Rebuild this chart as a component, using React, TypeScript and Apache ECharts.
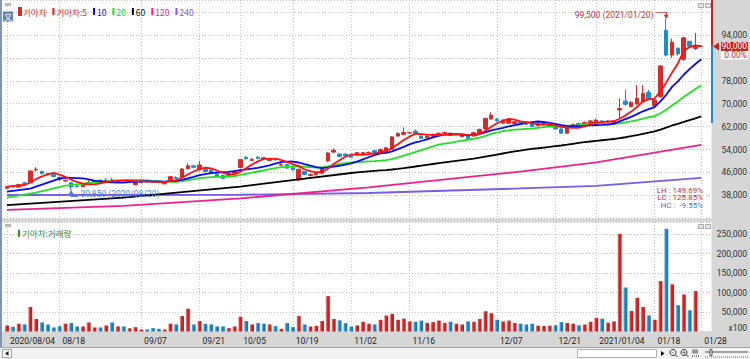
import React, { useEffect, useRef } from "react";
import * as echarts from "echarts";

// ---- trading days (KRX sessions) ----
const aug2020 = [4, 5, 6, 7, 10, 11, 12, 13, 14, 18, 19, 20, 21, 24, 25, 26, 27, 28, 31];
const sep2020 = [1, 2, 3, 4, 7, 8, 9, 10, 11, 14, 15, 16, 17, 18, 21, 22, 23, 24, 25, 28, 29];
const oct2020 = [5, 6, 7, 8, 12, 13, 14, 15, 16, 19, 20, 21, 22, 23, 26, 27, 28, 29, 30];
const nov2020 = [2, 3, 4, 5, 6, 9, 10, 11, 12, 13, 16, 17, 18, 19, 20, 23, 24, 25, 26, 27, 30];
const dec2020 = [1, 2, 3, 4, 7, 8, 9, 10, 11, 14, 15, 16, 17, 18, 21, 22, 23, 24, 28, 29, 30];
const jan2021 = [4, 5, 6, 7, 8, 11, 12, 13, 14, 15, 18, 19, 20, 21, 22, 25, 26, 27, 28];

// ---- price data (won) ----
const opens = [
  40500, 41100, 40900, 42300, 42400, 46900, 46300, 45600, 45200, 44300,
  43000, 42400, 41200, 41000, 42000, 42600, 43300, 43000, 43400, 42900,
  43200, 42800, 41700, 42500, 42800, 42800, 42800, 42000, 42800, 44200,
  44300, 47300, 48300, 46900, 47600, 46800, 45300, 45000, 44900, 45700,
  47700, 51300, 50200, 51300, 51200, 50200, 50900, 48500, 48800, 47600,
  43400, 46300, 44900, 45200, 45700, 50000, 53100, 52400, 52400, 52000,
  52100, 52300, 52900, 53600, 52700, 53000, 54100, 58700, 59300, 59800,
  60400, 58700, 58100, 58700, 59100, 59800, 59700, 59200, 58500, 59100,
  58700, 59700, 61200, 64700, 64600, 63200, 63200, 63100, 63500, 63100,
  62800, 62300, 62600, 62000, 62000, 61200, 59700, 62000, 63100, 62800,
  63200, 62800, 64000, 63500, 63200, 67800, 70900, 69000, 69900, 70700,
  74000, 69300, 72500, 95700, 87000, 89400, 85500, 91800, 89300, 90000,
];
const closes = [
  41000, 40900, 41700, 42200, 46500, 47100, 45600, 45300, 44600, 43500,
  43200, 40900, 41100, 41600, 42400, 43000, 42900, 43300, 43200, 43000,
  43100, 42900, 42600, 42600, 42700, 42600, 42600, 42600, 44500, 43800,
  47200, 48300, 47800, 48600, 46300, 46000, 44600, 43900, 45600, 46400,
  50500, 50800, 50600, 50900, 50800, 50600, 50700, 48700, 47500, 46900,
  47100, 45300, 45300, 45600, 47400, 52800, 53700, 51600, 51800, 51300,
  52900, 52900, 53000, 52700, 54000, 54600, 58400, 59600, 59900, 59900,
  59700, 57900, 58700, 59300, 59700, 59900, 58900, 59300, 59000, 57900,
  59900, 61000, 64900, 66000, 64000, 64300, 64300, 63700, 62800, 62800,
  62000, 63100, 63100, 62600, 61200, 59700, 61600, 62800, 62600, 63500,
  64000, 64300, 63500, 63800, 63800, 68300, 69800, 70500, 71900, 73600,
  71700, 71300, 83200, 87000, 91500, 87400, 93000, 90100, 90000, 90000,
];
const lows = [
  40300, 40700, 40700, 41900, 42300, 46200, 45300, 45000, 44300, 42800,
  42700, 39850, 40700, 40800, 41800, 42400, 42700, 42800, 42900, 42700,
  42800, 42600, 41500, 42300, 42400, 42400, 42300, 41900, 42600, 43500,
  44000, 47000, 47400, 46700, 46000, 45600, 44300, 43600, 44600, 45400,
  47500, 50500, 49900, 50600, 50300, 50000, 50000, 48400, 47200, 46600,
  43000, 45000, 44600, 44900, 45400, 49700, 52800, 51300, 51500, 51000,
  51900, 52100, 52700, 52400, 52500, 52800, 53900, 58400, 59000, 59500,
  59400, 57700, 57800, 58400, 58900, 59500, 58700, 58900, 58300, 57700,
  58500, 59500, 61000, 64400, 63700, 63000, 62900, 62900, 62600, 62500,
  61800, 62100, 62400, 61800, 61000, 59400, 59500, 61800, 62400, 62600,
  63000, 62500, 63200, 63200, 63000, 64900, 69300, 68700, 69600, 70400,
  71400, 68800, 72000, 86500, 86000, 86800, 85000, 89800, 88800, 90000,
];
const highs = [
  41200, 41400, 42000, 42700, 46700, 47800, 46600, 45900, 45500, 44500,
  43600, 42500, 41600, 41900, 43600, 43200, 43600, 43900, 44100, 43500,
  43400, 43300, 42800, 43000, 43100, 43000, 42900, 42800, 44700, 44600,
  47500, 49200, 48600, 50000, 47900, 47000, 45600, 45200, 45900, 46700,
  50700, 51700, 51000, 51800, 51300, 50900, 51000, 49800, 49000, 47900,
  47300, 46500, 45600, 45900, 47600, 53200, 54400, 52700, 52600, 52300,
  53100, 53100, 53300, 53800, 54300, 54900, 58700, 60000, 61700, 60200,
  61000, 59000, 58900, 59500, 59900, 60200, 59900, 59600, 59300, 59300,
  60100, 61300, 65100, 67000, 65000, 64500, 64600, 64000, 63800, 63300,
  63000, 63300, 63400, 62900, 62200, 61400, 61900, 63000, 63400, 63700,
  64300, 64800, 64300, 64200, 64100, 71900, 74800, 70800, 76500, 76500,
  74800, 71600, 83500, 99500, 92800, 89600, 93300, 92000, 94700, 90000,
];
// volume, shown in units of 100 shares (axis says x100)
const volumes = [
  15500, 12100, 19900, 18100, 62900, 32000, 23300, 18100, 10400, 13800,
  19900, 21600, 12900, 12900, 23300, 10400, 10400, 15500, 23300, 12900,
  12900, 8600, 11200, 5200, 5200, 8600, 6900, 5200, 19900, 18100,
  39600, 58600, 18100, 26800, 19900, 18100, 12900, 12900, 8600, 12900,
  37800, 26800, 18100, 21600, 19900, 18100, 13800, 6900, 21600, 11200,
  39600, 18100, 12900, 14700, 26800, 90700, 32000, 28500, 21600, 12900,
  15500, 25000, 19900, 18100, 30000, 41000, 45000, 30000, 33000, 26000,
  25000, 28000, 22000, 24000, 28000, 22000, 25000, 20000, 18000, 26000,
  25000, 32000, 52000, 47000, 30000, 26000, 28000, 22000, 20000, 18000,
  20000, 15000, 14000, 15000, 16000, 24000, 22000, 20000, 16000, 18000,
  25000, 35000, 33000, 22500, 25900, 250500, 113000, 52700, 86400, 63000,
  41500, 30200, 129500, 263500, 121000, 67400, 95000, 54400, 103600, 0,
];

const ma5EarlyIdx = [0, 3];
const ma5EarlyVal = [41000, 41600];
const ma10EarlyIdx = [0, 4];
const ma10EarlyVal = [39300, 40300];
const ma20EarlyIdx = [0, 5, 10, 15];
const ma20EarlyVal = [37200, 38900, 41400, 42500];
const ma60EarlyIdx = [0, 20, 40, 50];
const ma60EarlyVal = [34600, 37200, 41000, 43600];
const ma120Idx = [0, 20, 40, 62, 88, 101, 119];
const ma120Val = [32900, 34300, 36900, 40800, 46300, 49500, 55600];
const ma240Idx = [0, 40, 62, 88, 101, 119];
const ma240Val = [38100, 38200, 38800, 40400, 41300, 44100];

// x-axis tick labels
const tickDates = ["2020/08/04", "2020/08/18", "2020/09/07", "2020/09/21", "2020/10/05", "2020/10/19", "2020/11/02", "2020/11/16", "2020/12/07", "2020/12/21", "2021/01/04", "2021/01/18", "2021/01/28"];
const tickLabels = ["2020/08/04", "08/18", "09/07", "09/21", "10/05", "10/19", "11/02", "11/16", "12/07", "12/21", "2021/01/04", "01/18", "01/28"];

// price axis ticks / volume axis ticks
const priceTickStep = 8000;
const priceMin = 30000;
const hiddenPriceLabels = [86000, 102000];
const volTickStep = 50000;

const UP = "#d92a2a";
const DOWN = "#1f8bcc";
const FONT = "Roboto, 'Noto Sans CJK KR', sans-serif";
const KFONT = "'Noto Sans CJK KR', Roboto, sans-serif";

const pad = (n: number) => (n < 10 ? "0" + n : "" + n);
function buildDates(): string[] {
  const out: string[] = [];
  const groups: [number, number, number[]][] = [
    [2020, 8, aug2020], [2020, 9, sep2020], [2020, 10, oct2020],
    [2020, 11, nov2020], [2020, 12, dec2020], [2021, 1, jan2021],
  ];
  groups.forEach(([y, m, ds]) => ds.forEach((d) => out.push(`${y}/${pad(m)}/${pad(d)}`)));
  return out;
}
const dates = buildDates();
const N = dates.length;

function sma(n: number): (number | null)[] {
  return closes.map((_, i) => {
    if (i < n - 1) return null;
    let s = 0;
    for (let k = i - n + 1; k <= i; k++) s += closes[k];
    return Math.round(s / n);
  });
}
function withPoints(base: (number | null)[], idx: number[], val: number[]) {
  const out = base.slice();
  idx.forEach((k, j) => (out[k] = val[j]));
  return out;
}
const empty = () => new Array(N).fill(null) as (number | null)[];

const fmt = (v: number) => v.toLocaleString("en-US");

function buildOption(): any {
  const cats = [...dates, ""];
  const labelIdx = new Set(tickDates.map((d) => dates.indexOf(d)));
  const labelMap: Record<string, string> = {};
  tickDates.forEach((d, i) => (labelMap[d] = tickLabels[i]));

  const ma5 = withPoints(sma(5), ma5EarlyIdx, ma5EarlyVal);
  const ma10 = withPoints(sma(10), ma10EarlyIdx, ma10EarlyVal);
  const ma20 = withPoints(sma(20), ma20EarlyIdx, ma20EarlyVal);
  const ma60 = withPoints(sma(60), ma60EarlyIdx, ma60EarlyVal);
  const ma120 = withPoints(empty(), ma120Idx, ma120Val);
  const ma240 = withPoints(empty(), ma240Idx, ma240Val);

  let hiIdx = 0, loIdx = 0;
  highs.forEach((h, i) => { if (h > highs[hiIdx]) hiIdx = i; });
  lows.forEach((l, i) => { if (l < lows[loIdx]) loIdx = i; });

  const splitInterval = (i: number) => labelIdx.has(i);
  const dotted = { color: "#c4c4c4", width: 1, type: [1, 2] };

  const xCommon = {
    type: "category",
    data: cats,
    boundaryGap: true,
    axisLine: { show: false },
    axisTick: { show: false },
    splitLine: { show: true, interval: splitInterval, alignWithLabel: true, lineStyle: dotted },
  };

  const lineS = (name: string, data: any[], color: string, width = 1.8) => ({
    type: "line", name, data, xAxisIndex: 0, yAxisIndex: 0, symbol: "none",
    connectNulls: true, smooth: false, z: 4,
    lineStyle: { color, width }, itemStyle: { color }, silent: true,
  });

  const volBar = (i: number) => {
    const up = closes[i] >= opens[i];
    const main = up ? UP : DOWN;
    const light = up ? "#f3a0a0" : "#8cc8ee";
    const dark = up ? "#b81818" : "#1670a8";
    return {
      value: volumes[i],
      itemStyle: {
        color: new echarts.graphic.LinearGradient(0, 0, 1, 0, [
          { offset: 0, color: light }, { offset: 0.35, color: main }, { offset: 1, color: dark },
        ]),
      },
    };
  };

  const hiText = `${fmt(highs[hiIdx])} (${dates[hiIdx]})`;
  const loText = `${fmt(lows[loIdx])} (${dates[loIdx]})`;

  return {
    animation: false,
    backgroundColor: "#d6d6d6",
    textStyle: { fontFamily: FONT },
    grid: [
      { left: 4, top: 0, width: 706, height: 218.2 },
      { left: 4, top: 222, width: 706, height: 109.5 },
    ],
    legend: [
      {
        left: 13, top: 2, icon: "rect", itemWidth: 2, itemHeight: 7, itemGap: 6,
        selectedMode: false, textStyle: { fontSize: 8.5, fontFamily: KFONT, padding: [0, 0, 0, -3] },
        data: [
          { name: "기아차", textStyle: { color: "#d23030" } },
          { name: "기아차:5", textStyle: { color: "#e02020" } },
          { name: "10", textStyle: { color: "#1010e0" } },
          { name: "20", textStyle: { color: "#10d010" } },
          { name: "60", textStyle: { color: "#101010" } },
          { name: "120", textStyle: { color: "#e0207f" } },
          { name: "240", textStyle: { color: "#7a5ae8" } },
        ],
      },
      {
        left: 13, top: 224, icon: "rect", itemWidth: 2, itemHeight: 7,
        selectedMode: false, textStyle: { fontSize: 8.5, fontFamily: KFONT, padding: [0, 0, 0, -3] },
        data: [{ name: "기아차:거래량", textStyle: { color: "#2a8a2a" } }],
      },
    ],
    xAxis: [
      { ...xCommon, gridIndex: 0, axisLabel: { show: false } },
      {
        ...xCommon, gridIndex: 1,
        axisLabel: {
          show: true, interval: (i: number) => labelIdx.has(i),
          formatter: (v: string) => labelMap[v] || "",
          align: "left", padding: [0, 0, 0, 3], margin: 5,
          color: "#222", fontSize: 8.5, fontFamily: FONT,
        },
      },
    ],
    yAxis: [
      {
        type: "value", gridIndex: 0, position: "right", min: priceMin, max: 106230,
        interval: priceTickStep,
        axisLine: { show: false }, axisTick: { show: false },
        axisLabel: {
          showMinLabel: false, showMaxLabel: false, margin: 37, align: "right",
          color: "#333", fontSize: 8.5, fontFamily: FONT,
          formatter: (v: number) => (hiddenPriceLabels.includes(v) ? "" : fmt(v)),
        },
        splitLine: { show: true, lineStyle: dotted },
      },
      {
        type: "value", gridIndex: 1, position: "right", min: 0, max: 281000,
        interval: volTickStep,
        axisLine: { show: false }, axisTick: { show: false },
        axisLabel: {
          showMinLabel: false, showMaxLabel: false, margin: 37, align: "right",
          color: "#333", fontSize: 8.5, fontFamily: FONT, formatter: (v: number) => fmt(v),
        },
        splitLine: { show: true, lineStyle: dotted },
      },
    ],
    series: [
      {
        type: "candlestick", name: "기아차", xAxisIndex: 0, yAxisIndex: 0,
        data: opens.map((o, i) => [o, closes[i], lows[i], highs[i]]),
        barWidth: 4, z: 3,
        itemStyle: { color: UP, color0: DOWN, borderColor: UP, borderColor0: DOWN, borderWidth: 1 },
        markPoint: {
          silent: true,
          data: [
            {
              coord: [dates[hiIdx], highs[hiIdx]], symbol: "path://M0,0 L10,0 L10,6",
              symbolSize: [10, 6], symbolOffset: [-5, -4], symbolKeepAspect: false,
              itemStyle: { color: "transparent", borderColor: "#c83232", borderWidth: 1 },
              label: { show: true, position: "left", distance: 2, formatter: hiText, color: "#c83232", fontSize: 8.5, fontFamily: FONT },
            },
            {
              coord: [dates[hiIdx], highs[hiIdx]], symbol: "triangle", symbolRotate: 180,
              symbolSize: [5, 4], symbolOffset: [0, -2.5], itemStyle: { color: "#c83232" },
              label: { show: false },
            },
            {
              coord: [dates[loIdx], lows[loIdx]], symbol: "path://M0,0 L0,6 L7,6",
              symbolSize: [7, 6], symbolOffset: [3.5, 3.5], symbolKeepAspect: false,
              itemStyle: { color: "transparent", borderColor: "#4a88cc", borderWidth: 1 },
              label: { show: true, position: "right", distance: 2, formatter: loText, color: "#4a88cc", fontSize: 8.5, fontFamily: FONT },
            },
            {
              coord: [dates[loIdx], lows[loIdx]], symbol: "triangle",
              symbolSize: [5, 4], symbolOffset: [0, 2], itemStyle: { color: "#4a88cc" },
              label: { show: false },
            },
          ],
        },
      },
      lineS("240", ma240, "#7a5ae8"),
      lineS("120", ma120, "#f0208a"),
      lineS("60", ma60, "#000000"),
      lineS("20", ma20, "#22e022"),
      lineS("10", ma10, "#0a0aee"),
      lineS("기아차:5", ma5, "#ff1010"),
      {
        type: "bar", name: "기아차:거래량", xAxisIndex: 1, yAxisIndex: 1,
        barWidth: 4, itemStyle: { color: "#2a8a2a" },
        data: volumes.map((_, i) => volBar(i)),
      },
    ],
  };
}

function buildGraphic(chart: any): any[] {
  const last = closes[N - 1];
  const prev = closes[N - 2];
  const chg = ((last - prev) / prev) * 100;
  const maxHigh = Math.max(...highs);
  const minLow = Math.min(...lows);
  const lh = (maxHigh / minLow - 1) * 100;
  const lc = (last / minLow - 1) * 100;
  const hc = (last / maxHigh - 1) * 100;
  const yLast = chart.convertToPixel({ yAxisIndex: 0 }, last);
  const yTop = chart.convertToPixel({ yAxisIndex: 0 }, 106230);
  const yBand = chart.convertToPixel({ yAxisIndex: 0 }, 63300);

  const bg = (x: number, y: number, w: number, h: number, fill: string, extra: any = {}) => ({
    type: "rect", z: -1, silent: true, shape: { x, y, width: w, height: h }, style: { fill, ...extra },
  });
  const txt = (x: number, y: number, text: string, fill: string, size = 8.5, align = "left", family = FONT) => ({
    type: "text", z: 20, silent: true, x, y,
    style: { text, fill, font: `${size}px ${family}`, textAlign: align, textVerticalAlign: "middle" },
  });

  return [
    // panel backgrounds
    bg(2, 0, 709.5, 218.4, "#ffffff"),
    bg(2, 222, 709.5, 109.5, "#ffffff"),
    bg(0, 0, 2, 347, "#8096b4"),
    // bottom scroll strip
    bg(0, 347, 750, 12, "#f2f2f2"),
    { type: "line", z: 5, silent: true, shape: { x1: 0, y1: 347.5, x2: 750, y2: 347.5 }, style: { stroke: "#8ea6c4", lineWidth: 1 } },
    { type: "rect", z: 5, silent: true, shape: { x: 2.5, y: 349.5, width: 9, height: 8 }, style: { fill: "#fff", stroke: "#a0a0a0" } },
    { type: "polygon", z: 6, silent: true, shape: { points: [[5, 353.5], [8.5, 351], [8.5, 356]] }, style: { fill: "#000" } },
    { type: "rect", z: 5, silent: true, shape: { x: 577.5, y: 349.5, width: 79, height: 8 }, style: { fill: "#fff", stroke: "#b0b0b0" } },
    { type: "polygon", z: 6, silent: true, shape: { points: [[661, 351], [664.5, 353.5], [661, 356]] }, style: { fill: "#000" } },
    { type: "circle", z: 6, silent: true, shape: { cx: 673, cy: 352.5, r: 3 }, style: { fill: "none", stroke: "#333" } },
    { type: "line", z: 6, silent: true, shape: { x1: 675, y1: 354.5, x2: 677.5, y2: 357 }, style: { stroke: "#333" } },
    { type: "circle", z: 6, silent: true, shape: { cx: 684, cy: 352.5, r: 3 }, style: { fill: "none", stroke: "#333" } },
    { type: "line", z: 6, silent: true, shape: { x1: 686, y1: 354.5, x2: 688.5, y2: 357 }, style: { stroke: "#333" } },
    txt(671.6, 352.5, "-", "#333", 7),
    txt(682.3, 352.6, "+", "#333", 6.5),
    ...[0, 2, 4].map((d) => ({ type: "line", z: 6, silent: true, shape: { x1: 693 + d, y1: 349.5, x2: 693 + d, y2: 353.5 }, style: { stroke: "#333" } })),
    { type: "line", z: 6, silent: true, shape: { x1: 692, y1: 356, x2: 699, y2: 356 }, style: { stroke: "#333", lineDash: [1, 1] } },
    { type: "line", z: 6, silent: true, shape: { x1: 705, y1: 352, x2: 748, y2: 352 }, style: { stroke: "#555" } },
    { type: "line", z: 6, silent: true, shape: { x1: 705, y1: 357, x2: 748, y2: 357 }, style: { stroke: "#777", lineDash: [1, 1] } },
    { type: "rect", z: 6, silent: true, shape: { x: 710, y: 349.5, width: 2, height: 6 }, style: { fill: "#fff", stroke: "#333", lineWidth: 0.8 } },
    // small window icons
    bg(5, 3, 6, 3, "#b8b8b8"),
    bg(5, 224, 6, 3, "#b8b8b8"),
    { type: "rect", z: 5, silent: true, shape: { x: 3, y: 11.5, width: 10, height: 10 }, style: { fill: "#5f84ae" } },
    txt(8, 16.8, "文", "#ffffff", 8, "center", KFONT),
    ...[[698, 3], [705, 3], [698, 224], [705, 224]].map(([x, y]) => ({
      type: "rect", z: 5, silent: true, shape: { x: x + 0.5, y: y + 0.5, width: 5, height: 4 }, style: { fill: "#e4e4e4", stroke: "#9a9a9a", lineWidth: 0.8 },
    })),
    // right-edge price band
    { type: "rect", z: 5, silent: true, shape: { x: 711, y: yTop, width: 2, height: yLast - yTop }, style: { fill: "#c81e1e" } },
    { type: "rect", z: 5, silent: true, shape: { x: 711, y: yLast, width: 2, height: yBand - yLast }, style: { fill: "#1c8ad0" } },
    // current price marker
    { type: "polygon", z: 10, silent: true, shape: { points: [[713, yLast], [719, yLast - 4], [719, yLast + 4]] }, style: { fill: "#c81e1e" } },
    { type: "rect", z: 10, silent: true, shape: { x: 721, y: yLast - 4.5, width: 27, height: 9 }, style: { fill: "#c41e1e" } },
    txt(747, yLast, fmt(last), "#ffffff", 8.5, "right"),
    { type: "rect", z: 10, silent: true, shape: { x: 721, y: yLast + 4.5, width: 27, height: 8.5 }, style: { fill: "#ffffff" } },
    txt(747, yLast + 9, `${chg.toFixed(2)}%`, "#c41e1e", 8.5, "right"),
    // stats
    txt(703, 190, `LH : ${lh.toFixed(2)}%`, "#c03030", 8, "right"),
    txt(703, 197.5, `LC : ${lc.toFixed(2)}%`, "#c03030", 8, "right"),
    txt(703, 205, `HC :  ${hc.toFixed(2)}%`, "#2a82c8", 8, "right"),
    // volume unit
    txt(747, 328, "x100", "#333", 8.5, "right"),
  ];
}

export default function App() {
  const ref = useRef<HTMLDivElement>(null);
  useEffect(() => {
    document.body.style.margin = "0";
    const chart = echarts.init(ref.current!, null, { renderer: "svg" });
    chart.setOption(buildOption());
    chart.setOption({ graphic: buildGraphic(chart) });
    return () => chart.dispose();
  }, []);
  return <div ref={ref} style={{ width: 750, height: 359 }} />;
}
